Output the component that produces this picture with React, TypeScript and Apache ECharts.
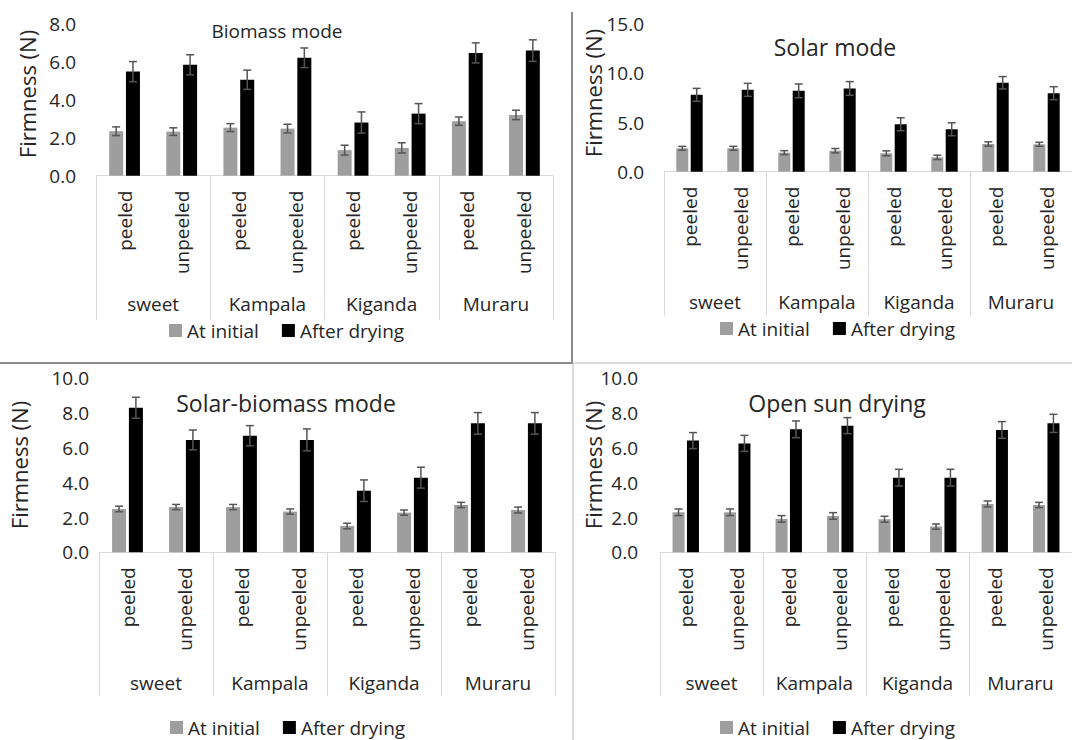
import React, { useEffect, useRef } from 'react';
import * as echarts from 'echarts';

// ---------- data ----------
const groups = ['sweet', 'Kampala', 'Kiganda', 'Muraru'];
const peelTypes = ['peeled', 'unpeeled'];
const seriesNames = ['At initial', 'After drying'];
const panelTitles = ['Biomass mode', 'Solar mode', 'Solar-biomass mode', 'Open sun drying'];
const yAxisTitle = 'Firmness (N)';
const yMax = [8, 15, 10, 10];
const yStep = [2, 5, 2, 2];

const biomassInitial = [2.35, 2.33, 2.54, 2.49, 1.35, 1.47, 2.88, 3.21];
const biomassInitialErr = [0.23, 0.2, 0.21, 0.23, 0.26, 0.27, 0.22, 0.25];
const biomassDried = [5.5, 5.86, 5.07, 6.23, 2.81, 3.28, 6.49, 6.61];
const biomassDriedErr = [0.53, 0.53, 0.51, 0.52, 0.56, 0.53, 0.53, 0.57];

const solarInitial = [2.38, 2.38, 1.94, 2.14, 1.87, 1.46, 2.82, 2.79];
const solarInitialErr = [0.2, 0.2, 0.2, 0.22, 0.25, 0.22, 0.22, 0.2];
const solarDried = [7.82, 8.33, 8.23, 8.47, 4.83, 4.32, 9.05, 7.99];
const solarDriedErr = [0.66, 0.66, 0.7, 0.7, 0.66, 0.66, 0.63, 0.66];

const solarBiomassInitial = [2.49, 2.6, 2.6, 2.34, 1.51, 2.28, 2.72, 2.43];
const solarBiomassInitialErr = [0.16, 0.15, 0.15, 0.15, 0.16, 0.15, 0.15, 0.17];
const solarBiomassDried = [8.31, 6.46, 6.7, 6.46, 3.54, 4.29, 7.41, 7.41];
const solarBiomassDriedErr = [0.6, 0.57, 0.58, 0.63, 0.62, 0.6, 0.62, 0.62];

const openSunInitial = [2.3, 2.3, 1.92, 2.09, 1.9, 1.48, 2.78, 2.72];
const openSunInitialErr = [0.19, 0.19, 0.19, 0.19, 0.17, 0.15, 0.17, 0.15];
const openSunDried = [6.42, 6.26, 7.07, 7.28, 4.29, 4.29, 7.03, 7.41];
const openSunDriedErr = [0.46, 0.46, 0.48, 0.46, 0.48, 0.48, 0.48, 0.52];

const panelData = [
  { initial: biomassInitial, initialErr: biomassInitialErr, dried: biomassDried, driedErr: biomassDriedErr },
  { initial: solarInitial, initialErr: solarInitialErr, dried: solarDried, driedErr: solarDriedErr },
  { initial: solarBiomassInitial, initialErr: solarBiomassInitialErr, dried: solarBiomassDried, driedErr: solarBiomassDriedErr },
  { initial: openSunInitial, initialErr: openSunInitialErr, dried: openSunDried, driedErr: openSunDriedErr },
];

// ---------- layout ----------
const FONT = 'Open Sans';
const TEXT = '#262626';
const layout = [
  { left: 96, top: 24.3, width: 457, height: 151.4, barW: 14, labelMargin: 20, groupMargin: 119, title: { x: 277, y: 31, size: 19 }, yName: { x: 27, y: 94 }, legend: { x: 169, y: 321 } },
  { left: 664, top: 24.3, width: 419, height: 147.4, barW: 12, labelMargin: 20, groupMargin: 121, title: { x: 835, y: 47, size: 23 }, yName: { x: 593, y: 93 }, legend: { x: 720, y: 319 } },
  { left: 99, top: 378.3, width: 456, height: 174, barW: 14, labelMargin: 10, groupMargin: 121, title: { x: 286, y: 403, size: 23 }, yName: { x: 19, y: 465 }, legend: { x: 170, y: 718 } },
  { left: 660, top: 378.3, width: 423, height: 174, barW: 12, labelMargin: 22, groupMargin: 121, title: { x: 837, y: 403, size: 23 }, yName: { x: 593, y: 465 }, legend: { x: 720, y: 718 } },
];

const categories: string[] = [];
groups.forEach((g) => peelTypes.forEach((p) => categories.push(g + '|' + p)));

const errRender = (sign: number, barW: number) => (params: any, api: any) => {
  const idx = api.value(0);
  const v = api.value(1);
  const e = api.value(2);
  const c = api.coord([idx, v]);
  const hi = api.coord([idx, v + e]);
  const lo = api.coord([idx, v - e]);
  const x = c[0] + (sign * (barW * 1.2)) / 2;
  const cap = 4;
  const style = { stroke: '#555555', lineWidth: 1.5 };
  return {
    type: 'group',
    children: [
      { type: 'line', shape: { x1: x, y1: hi[1], x2: x, y2: lo[1] }, style },
      { type: 'line', shape: { x1: x - cap, y1: hi[1], x2: x + cap, y2: hi[1] }, style },
      { type: 'line', shape: { x1: x - cap, y1: lo[1], x2: x + cap, y2: lo[1] }, style },
    ],
  };
};

function buildOption() {
  const grid: any[] = [];
  const xAxis: any[] = [];
  const yAxis: any[] = [];
  const series: any[] = [];
  const legend: any[] = [];
  const graphic: any[] = [];

  layout.forEach((L, p) => {
    grid.push({ left: L.left, top: L.top, width: L.width, height: L.height, containLabel: false });
    xAxis.push({
      type: 'category',
      gridIndex: p,
      data: categories,
      position: 'bottom',
      axisLine: { show: true, lineStyle: { color: '#d9d9d9', width: 1 } },
      axisTick: { show: false },
      axisLabel: {
        interval: 0,
        rotate: 90,
        margin: 15,
        fontFamily: FONT,
        fontSize: 19,
        color: TEXT,
        formatter: (v: string) => v.split('|')[1],
      },
    });
    xAxis.push({
      type: 'category',
      gridIndex: p,
      data: groups,
      position: 'bottom',
      axisLine: { show: false },
      axisTick: { show: true, length: 144, lineStyle: { color: '#d9d9d9', width: 1 } },
      axisLabel: { interval: 0, margin: L.groupMargin, fontFamily: FONT, fontSize: 19, lineHeight: 19, color: TEXT },
    });
    yAxis.push({
      type: 'value',
      gridIndex: p,
      min: 0,
      max: yMax[p],
      interval: yStep[p],
      axisLine: { show: false },
      axisTick: { show: false },
      splitLine: { show: false },
      axisLabel: {
        margin: L.labelMargin,
        fontFamily: FONT,
        fontSize: 19,
        color: TEXT,
        formatter: (v: number) => v.toFixed(1),
      },
    });
    const d = panelData[p];
    series.push({
      type: 'bar',
      name: seriesNames[0],
      xAxisIndex: 2 * p,
      yAxisIndex: p,
      data: d.initial,
      barWidth: L.barW,
      barGap: '20%',
      itemStyle: { color: '#9e9e9e' },
    });
    series.push({
      type: 'bar',
      name: seriesNames[1],
      xAxisIndex: 2 * p,
      yAxisIndex: p,
      data: d.dried,
      barWidth: L.barW,
      barGap: '20%',
      itemStyle: { color: '#000000' },
    });
    series.push({
      type: 'custom',
      name: 'err-initial-' + p,
      xAxisIndex: 2 * p,
      yAxisIndex: p,
      z: 5,
      renderItem: errRender(-1, L.barW),
      encode: { x: 0, y: 1 },
      data: d.initial.map((v, i) => [i, v, d.initialErr[i]]),
    });
    series.push({
      type: 'custom',
      name: 'err-dried-' + p,
      xAxisIndex: 2 * p,
      yAxisIndex: p,
      z: 5,
      renderItem: errRender(1, L.barW),
      encode: { x: 0, y: 1 },
      data: d.dried.map((v, i) => [i, v, d.driedErr[i]]),
    });
    legend.push({
      left: L.legend.x,
      top: L.legend.y,
      padding: 0,
      itemWidth: 13,
      itemHeight: 13,
      itemGap: 23,
      icon: 'rect',
      selectedMode: false,
      data: seriesNames,
      textStyle: { fontFamily: FONT, fontSize: 19, lineHeight: 19, color: TEXT },
    });
    graphic.push({
      type: 'text',
      x: L.title.x,
      y: L.title.y,
      style: {
        text: panelTitles[p],
        font: `${L.title.size}px "${FONT}"`,
        fill: TEXT,
        textAlign: 'center',
        textVerticalAlign: 'middle',
        align: 'center',
        verticalAlign: 'middle',
      },
    });
    graphic.push({
      type: 'text',
      x: L.yName.x,
      y: L.yName.y,
      rotation: Math.PI / 2,
      style: {
        text: yAxisTitle,
        font: `22px "${FONT}"`,
        fill: TEXT,
        textAlign: 'center',
        textVerticalAlign: 'middle',
        align: 'center',
        verticalAlign: 'middle',
      },
    });
  });

  // panel frame lines
  graphic.push({ type: 'line', shape: { x1: 572, y1: 12, x2: 572, y2: 363 }, style: { stroke: '#8c8c8c', lineWidth: 2 } });
  graphic.push({ type: 'line', shape: { x1: 0, y1: 363, x2: 573, y2: 363 }, style: { stroke: '#8c8c8c', lineWidth: 2 } });
  graphic.push({ type: 'line', shape: { x1: 573, y1: 363, x2: 1072, y2: 363 }, style: { stroke: '#d0d0d0', lineWidth: 1.5 } });
  graphic.push({ type: 'line', shape: { x1: 573, y1: 364, x2: 573, y2: 740 }, style: { stroke: '#d0d0d0', lineWidth: 1.5 } });

  return {
    animation: false,
    backgroundColor: '#ffffff',
    grid,
    xAxis,
    yAxis,
    series,
    legend,
    graphic,
  };
}

export default function App() {
  const ref = useRef<HTMLDivElement>(null);
  useEffect(() => {
    if (!ref.current) return;
    const chart = echarts.init(ref.current, undefined, { renderer: 'svg', width: 1072, height: 740 });
    chart.setOption(buildOption() as any);
    return () => chart.dispose();
  }, []);
  return (
    <div
      ref={ref}
      style={{ position: 'fixed', left: 0, top: 0, width: 1072, height: 740, background: '#fff' }}
    />
  );
}
